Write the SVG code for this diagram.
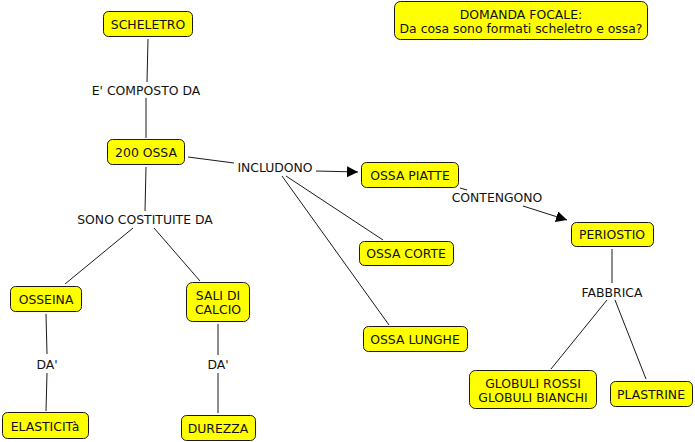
<svg xmlns="http://www.w3.org/2000/svg" width="695" height="442" viewBox="0 0 695 442">
<defs>
<style>
.n rect{fill:#ffff00;stroke:#1a1a1a;stroke-width:1}
.n text,.l text{font-family:"DejaVu Sans",Verdana,sans-serif;font-size:12.4px;fill:#111;text-anchor:middle;dominant-baseline:central}
.c line{stroke:#1a1a1a;stroke-width:1}
.c .a{marker-end:url(#ah)}
</style>
<marker id="ah" viewBox="0 0 10 10" refX="10" refY="5" markerWidth="11" markerHeight="11" markerUnits="userSpaceOnUse" orient="auto">
<path d="M0,0 L10,5 L0,10 Z" fill="#000"/>
</marker>
</defs>
<rect width="695" height="442" fill="#fff"/>
<g class="c" id="connectors">
<line x1="148" y1="39" x2="147" y2="82"/>
<line x1="146" y1="98" x2="146" y2="138"/>
<line x1="188" y1="157" x2="234" y2="163"/>
<line class="a" x1="316" y1="171" x2="358" y2="172"/>
<line x1="286" y1="176" x2="383" y2="240"/>
<line x1="282" y1="176" x2="389" y2="325"/>
<line x1="460" y1="188" x2="467" y2="190"/>
<line class="a" x1="523" y1="206" x2="567" y2="220"/>
<line x1="612" y1="249" x2="612" y2="283"/>
<line x1="607" y1="300" x2="551" y2="369"/>
<line x1="615" y1="300" x2="646" y2="379"/>
<line x1="146" y1="167" x2="145" y2="211"/>
<line x1="133" y1="228" x2="65" y2="284"/>
<line x1="154" y1="228" x2="200" y2="281"/>
<line x1="46" y1="314" x2="47" y2="354"/>
<line x1="47" y1="373" x2="46" y2="411"/>
<line x1="218" y1="324" x2="218" y2="355"/>
<line x1="218" y1="373" x2="218" y2="413"/>
</g>
<g class="l" id="labels">
<text x="146" y="90">E' COMPOSTO DA</text>
<text x="275" y="167">INCLUDONO</text>
<text x="497" y="197">CONTENGONO</text>
<text x="612" y="292">FABBRICA</text>
<text x="145" y="219">SONO COSTITUITE DA</text>
<text x="47" y="364">DA'</text>
<text x="218" y="364">DA'</text>
</g>
<g class="n" id="n-scheletro"><rect x="103.5" y="11.5" width="89" height="25" rx="5"/><text x="148" y="24">SCHELETRO</text></g>
<g class="n" id="n-domanda"><rect x="394.5" y="1.5" width="253" height="38" rx="6"/><text x="521" y="14">DOMANDA FOCALE:</text><text x="521" y="28">Da cosa sono formati scheletro e ossa?</text></g>
<g class="n" id="n-200ossa"><rect x="107.5" y="139.5" width="77" height="25" rx="5"/><text x="146" y="152">200 OSSA</text></g>
<g class="n" id="n-piatte"><rect x="361.5" y="162.5" width="97" height="25" rx="5"/><text x="410" y="175">OSSA PIATTE</text></g>
<g class="n" id="n-corte"><rect x="359.5" y="241.5" width="94" height="24" rx="5"/><text x="406" y="253">OSSA CORTE</text></g>
<g class="n" id="n-lunghe"><rect x="363.5" y="326.5" width="104" height="25" rx="5"/><text x="415" y="339">OSSA LUNGHE</text></g>
<g class="n" id="n-periostio"><rect x="571.5" y="222.5" width="82" height="24" rx="5"/><text x="612" y="234">PERIOSTIO</text></g>
<g class="n" id="n-globuli"><rect x="469.5" y="370.5" width="127" height="38" rx="6"/><text x="533" y="383">GLOBULI ROSSI</text><text x="533" y="397">GLOBULI BIANCHI</text></g>
<g class="n" id="n-plastrine"><rect x="610.5" y="381.5" width="82" height="25" rx="5"/><text x="651" y="394">PLASTRINE</text></g>
<g class="n" id="n-osseina"><rect x="10.5" y="286.5" width="71" height="25" rx="5"/><text x="46" y="299">OSSEINA</text></g>
<g class="n" id="n-sali"><rect x="186.5" y="282.5" width="63" height="39" rx="6"/><text x="218" y="295">SALI DI</text><text x="218" y="309">CALCIO</text></g>
<g class="n" id="n-elasticita"><rect x="2.5" y="412.5" width="86" height="26" rx="5"/><text x="45" y="426">ELASTICITà</text></g>
<g class="n" id="n-durezza"><rect x="181.5" y="415.5" width="74" height="25" rx="5"/><text x="218" y="428">DUREZZA</text></g>
</svg>
